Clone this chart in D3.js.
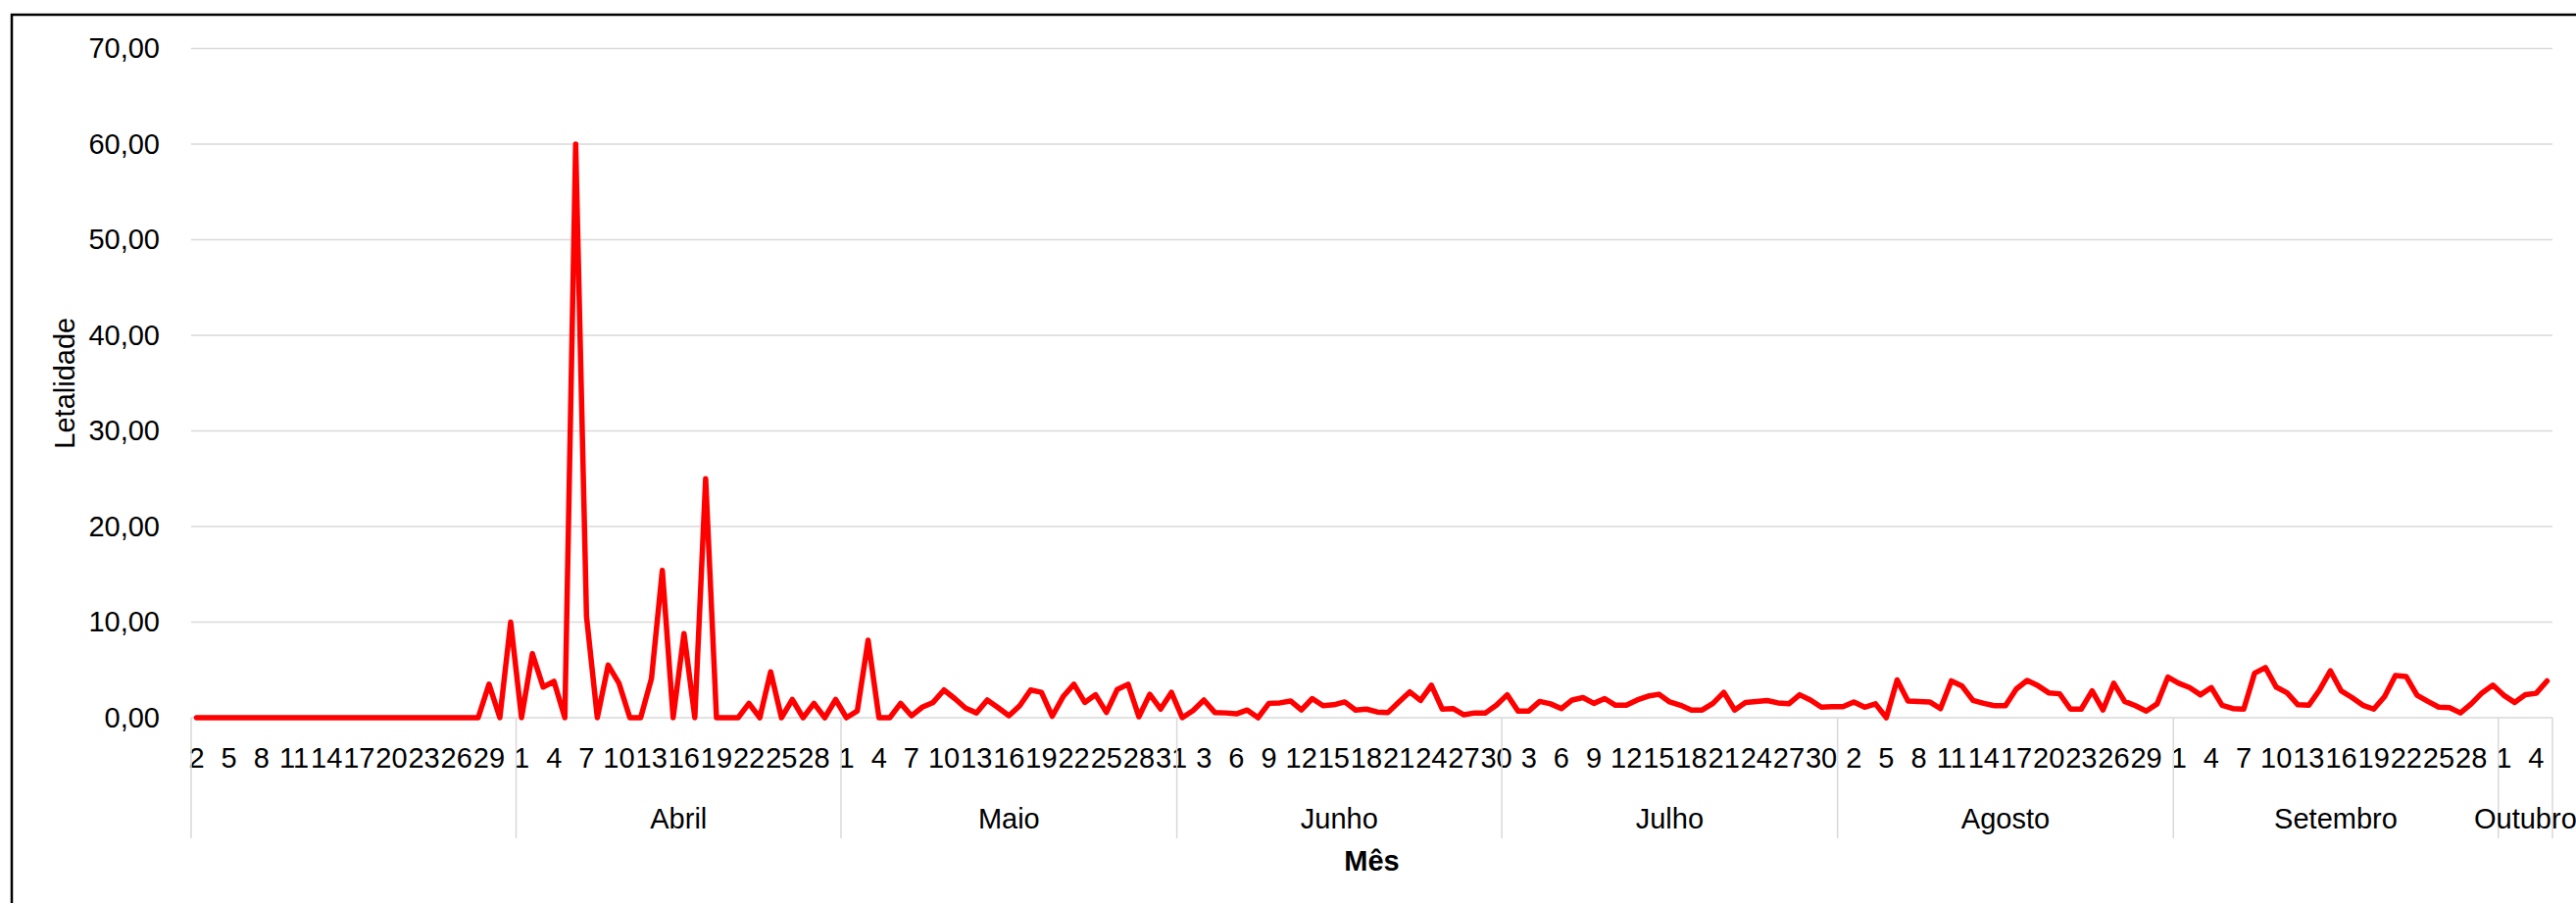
<!DOCTYPE html>
<html>
<head>
<meta charset="utf-8">
<script src="https://cdn.jsdelivr.net/npm/d3@7"></script>
<style>
  body { margin: 0; background: #fff; }
  text { font-family: "Liberation Sans", Arial, sans-serif; fill: #000; }
</style>
</head>
<body>
<div id="chart"></div>
<script>
// daily lethality, one array per month (March starts on day 2, October ends on day 5)
const months = ['', 'Abril', 'Maio', 'Junho', 'Julho', 'Agosto', 'Setembro', 'Outubro']
const firstDay = [2, 1, 1, 1, 1, 1, 1, 1]

const marco = [0, 0, 0, 0, 0, 0, 0, 0, 0, 0, 0, 0, 0, 0, 0, 0, 0, 0, 0, 0, 0, 0, 0, 0, 0, 0, 0, 3.5, 0, 10]
const abril = [0, 6.7, 3.2, 3.8, 0, 60, 10.6, 0, 5.5, 3.6, 0, 0, 4.1, 15.4, 0, 8.8, 0, 25, 0, 0,
    0, 1.5, 0, 4.8, 0, 1.9, 0, 1.5, 0, 1.9]
const maio = [0, 0.7, 8.1, 0, 0, 1.5, 0.2, 1.1, 1.6, 2.9, 2.0, 1.0, 0.5, 1.85, 1.05, 0.2, 1.25, 2.9, 2.65, 0.15,
    2.2, 3.5, 1.6, 2.4, 0.55, 2.95, 3.5, 0.1, 2.45, 0.9, 2.65]
const junho = [0, 0.75, 1.85, 0.55, 0.5, 0.4, 0.8, 0, 1.5, 1.55, 1.75, 0.8, 2.0, 1.25, 1.35, 1.65, 0.8, 0.9, 0.6, 0.55,
    1.65, 2.7, 1.8, 3.4, 0.9, 0.95, 0.3, 0.5, 0.5, 1.3]
const julho = [2.4, 0.7, 0.7, 1.7, 1.45, 0.95, 1.85, 2.1, 1.5, 2.0, 1.3, 1.3, 1.85, 2.25, 2.45, 1.65, 1.3, 0.8, 0.8, 1.5,
    2.65, 0.8, 1.6, 1.7, 1.8, 1.55, 1.45, 2.4, 1.85, 1.1, 1.15]
const agosto = [1.15, 1.65, 1.1, 1.45, 0, 3.95, 1.75, 1.7, 1.65, 0.95, 3.85, 3.3, 1.8, 1.5, 1.25, 1.25, 3.0, 3.9, 3.35, 2.6,
    2.5, 0.9, 0.9, 2.8, 0.8, 3.6, 1.7, 1.25, 0.7, 1.45, 4.25]
const setembro = [3.6, 3.15, 2.4, 3.15, 1.3, 0.95, 0.9, 4.65, 5.25, 3.2, 2.6, 1.35, 1.3, 2.9, 4.9, 2.8, 2.1, 1.3, 0.9, 2.2,
    4.4, 4.3, 2.35, 1.7, 1.1, 1.05, 0.5, 1.45, 2.6, 3.4]
const outubro = [2.35, 1.6, 2.4, 2.55, 3.85]

const yTicks = [0, 10, 20, 30, 40, 50, 60, 70]

const series = [marco, abril, maio, junho, julho, agosto, setembro, outubro]

// flatten into one row per day
const data = []
const groups = []
series.forEach((vals, m) => {
    groups.push({ name: months[m], start: data.length, end: data.length + vals.length })
    vals.forEach((v, k) => data.push({ i: data.length, day: firstDay[m] + k, value: v }))
})

const width = 2628
const height = 921
const marginLeft = 195
const marginRight = 24
const plotTop = 49.5
const plotBottom = 732

const svg = d3.select('#chart').append('svg')
    .attr('width', width)
    .attr('height', height)

// chart frame (runs off the right and bottom edge)
svg.append('rect')
    .attr('x', 12).attr('y', 15)
    .attr('width', width + 50).attr('height', height + 50)
    .attr('fill', 'none').attr('stroke', '#000').attr('stroke-width', 2.5)

const x = d3.scaleBand()
    .domain(data.map(d => d.i))
    .range([marginLeft, width - marginRight])
    .padding(0)

const y = d3.scaleLinear()
    .domain([0, 70])
    .range([plotBottom, plotTop])

const fmt = d3.formatLocale({ decimal: ',', thousands: '.', grouping: [3], currency: ['', ''] }).format('.2f')

// gridlines
svg.append('g')
    .selectAll('line')
    .data(yTicks)
    .join('line')
    .attr('x1', marginLeft).attr('x2', width - marginRight)
    .attr('y1', d => y(d)).attr('y2', d => y(d))
    .attr('stroke', '#d9d9d9').attr('stroke-width', 1.5)

// y axis labels
const yAxis = svg.append('g')
    .attr('transform', `translate(${marginLeft},0)`)
    .call(d3.axisLeft(y).tickValues(yTicks).tickFormat(fmt).tickSize(0).tickPadding(32))
yAxis.select('.domain').remove()
yAxis.selectAll('text').attr('font-size', 29).attr('font-family', null)

// day labels, every third category
const xAxis = svg.append('g')
    .attr('transform', `translate(0,${plotBottom})`)
    .call(d3.axisBottom(x)
        .tickValues(data.filter(d => d.i % 3 === 0).map(d => d.i))
        .tickFormat(i => data[i].day)
        .tickSize(0)
        .tickPadding(30))
xAxis.select('.domain').remove()
xAxis.selectAll('text').attr('font-size', 29).attr('font-family', null)

// month group separators
const bounds = groups.map(g => x(g.start)).concat([width - marginRight])
svg.append('g')
    .selectAll('line')
    .data(bounds)
    .join('line')
    .attr('x1', d => d).attr('x2', d => d)
    .attr('y1', plotBottom).attr('y2', 855)
    .attr('stroke', '#d9d9d9').attr('stroke-width', 1.5)

// month names
svg.append('g')
    .selectAll('text')
    .data(groups)
    .join('text')
    .attr('x', g => (x(g.start) + (g.end < data.length ? x(g.end) : width - marginRight)) / 2)
    .attr('y', 845)
    .attr('text-anchor', 'middle')
    .attr('font-size', 29)
    .text(g => g.name)

// axis titles
svg.append('text')
    .attr('x', (marginLeft + width - marginRight) / 2)
    .attr('y', 888)
    .attr('text-anchor', 'middle')
    .attr('font-size', 29)
    .attr('font-weight', 'bold')
    .text('Mês')

svg.append('text')
    .attr('transform', `translate(76,${(plotTop + plotBottom) / 2}) rotate(-90)`)
    .attr('text-anchor', 'middle')
    .attr('font-size', 29)
    .text('Letalidade')

// the line
const line = d3.line()
    .x(d => x(d.i) + x.bandwidth() / 2)
    .y(d => y(d.value))

svg.append('path')
    .datum(data)
    .attr('d', line)
    .attr('fill', 'none')
    .attr('stroke', '#ff0000')
    .attr('stroke-width', 5.5)
    .attr('stroke-linejoin', 'round')
    .attr('stroke-linecap', 'round')
</script>
</body>
</html>
